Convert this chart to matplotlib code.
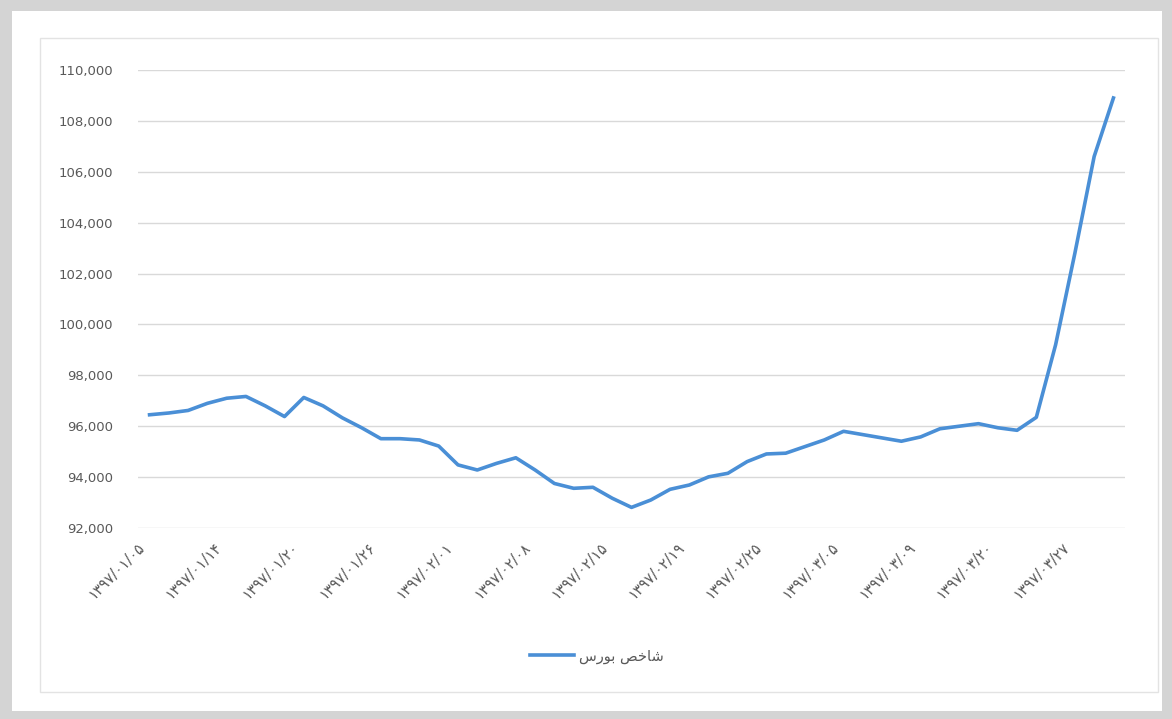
import matplotlib

matplotlib.use("Agg")

import matplotlib.pyplot as plt
from matplotlib.patches import Rectangle
from matplotlib.ticker import FuncFormatter
from matplotlib.transforms import ScaledTranslation

# Tehran stock exchange index, one point per session
INDEX_VALUES = [
    96450, 96520, 96620, 96900, 97100, 97170, 96800, 96380, 97130, 96800,
    96330, 95940, 95510, 95510, 95460, 95220, 94480, 94280, 94540, 94760,
    94280, 93750, 93560, 93600, 93170, 92810, 93100, 93520, 93690, 94010,
    94150, 94610, 94910, 94940, 95200, 95460, 95800, 95670, 95540, 95410,
    95580, 95900, 96000, 96100, 95940, 95840, 96350, 99200, 102800, 106600,
    108900,
]
DATE_LABELS = [
    "۱۳۹۷/۰۱/۰۵", "۱۳۹۷/۰۱/۱۴", "۱۳۹۷/۰۱/۲۰", "۱۳۹۷/۰۱/۲۶", "۱۳۹۷/۰۲/۰۱",
    "۱۳۹۷/۰۲/۰۸", "۱۳۹۷/۰۲/۱۵", "۱۳۹۷/۰۲/۱۹", "۱۳۹۷/۰۲/۲۵", "۱۳۹۷/۰۳/۰۵",
    "۱۳۹۷/۰۳/۰۹", "۱۳۹۷/۰۳/۲۰", "۱۳۹۷/۰۳/۲۷",
]
LABEL_STEP = 4
Y_TICKS = list(range(92000, 110001, 2000))
# "شاخص بورس" in shaped presentation forms, visual (left-to-right) order
SERIES_NAME = "\ufeb1\ufead\ufeee\ufe91 \ufeba\ufea7\ufe8e\ufeb7"

LINE = "#4a8fd6"
GRID = "#d9d9d9"
TEXT = "#595959"
FRAME = "#d4d4d4"

W, H = 1172, 719
figure = plt.figure(figsize=(W / 100, H / 100), dpi=100, facecolor=FRAME)

# white card and its thin inner border, kept behind the axes
figure.patches.append(Rectangle((12 / W, 8 / H), 1150 / W, 700 / H,
                                transform=figure.transFigure,
                                facecolor="white", edgecolor="none", zorder=-3))
figure.patches.append(Rectangle((40 / W, 27 / H), 1118 / W, 654 / H,
                                transform=figure.transFigure,
                                facecolor="none", edgecolor="#e3e3e3",
                                linewidth=1, zorder=-2))

axis = figure.add_axes((138 / W, 1 - 528 / H, 987 / W, 458 / H))
axis.set_facecolor("none")
x = list(range(len(INDEX_VALUES)))
line, = axis.plot(x, INDEX_VALUES, color=LINE, linewidth=2.6,
                  solid_joinstyle="round", label=SERIES_NAME)

axis.set_xlim(-0.6, len(INDEX_VALUES) - 0.4)
axis.set_ylim(Y_TICKS[0], Y_TICKS[-1])
axis.set_yticks(Y_TICKS)
axis.yaxis.set_major_formatter(FuncFormatter(lambda v, _: f"{v:,.0f}"))
axis.set_xticks(x[::LABEL_STEP])
axis.set_xticklabels(DATE_LABELS, rotation=45, ha="right", va="center",
                     rotation_mode="anchor", family=["DejaVu Sans"])
axis.tick_params(axis="y", length=0, pad=18, labelsize=9.5, colors=TEXT)
axis.tick_params(axis="x", length=0, pad=12, labelsize=10.5, colors=TEXT)
shift = ScaledTranslation(-0.07, 0, figure.dpi_scale_trans)
for label in axis.get_xticklabels():
    label.set_transform(label.get_transform() + shift)
axis.grid(axis="y", color=GRID, linewidth=1)
axis.set_axisbelow(True)
for spine in axis.spines.values():
    spine.set_visible(False)

legend = figure.legend(handles=[line], loc="center",
                       bbox_to_anchor=(597 / W, 1 - 656 / H), frameon=False,
                       fontsize=10.5, handlelength=3.0, handletextpad=0.4)
for text in legend.get_texts():
    text.set_color(TEXT)

figure.savefig("out.png", dpi=100, facecolor=FRAME)
